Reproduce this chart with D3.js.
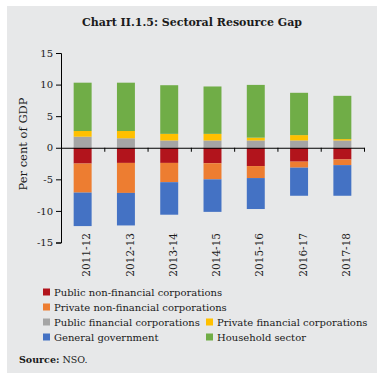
<!DOCTYPE html>
<html><head><meta charset="utf-8">
<script src="https://cdn.jsdelivr.net/npm/d3@7"></script>
<style>body{margin:0;background:#fff}svg{display:block}text{font-family:"DejaVu Serif",serif;fill:#1a1a1a}</style>
</head><body><svg id="c" width="384" height="380"></svg>
<script>
const categories = ["2011-12","2012-13","2013-14","2014-15","2015-16","2016-17","2017-18"];
const publicNonFin  = [-2.5, -2.4, -2.4, -2.45, -2.9, -2.2, -1.85];
const privateNonFin = [-4.6, -4.75, -3.05, -2.55, -1.9, -0.95, -0.9];
const generalGov    = [-5.3, -5.15, -5.15, -5.15, -4.9, -4.45, -4.85];
const publicFin     = [1.75, 1.5, 1.15, 1.15, 1.15, 1.15, 1.15];
const privateFin    = [0.9, 1.15, 1.05, 1.05, 0.45, 0.85, 0.22];
const household     = [7.65, 7.65, 7.7, 7.5, 8.35, 6.7, 6.85];
const yTicks = [-15, -10, -5, 0, 5, 10, 15];

const series = [
  {name:"Public non-financial corporations", values:publicNonFin, color:"#b2141c"},
  {name:"Private non-financial corporations", values:privateNonFin, color:"#ed7d31"},
  {name:"Public financial corporations", values:publicFin, color:"#a5a5a5"},
  {name:"Private financial corporations", values:privateFin, color:"#ffc000"},
  {name:"General government", values:generalGov, color:"#4472c4"},
  {name:"Household sector", values:household, color:"#70ad47"}
];

const svg = d3.select("#c");
svg.append("rect").attr("x",7).attr("y",6).attr("width",370).attr("height",367).attr("fill","#e7e8e9");

svg.append("text").attr("x",192).attr("y",26).attr("text-anchor","middle")
  .attr("font-weight","bold").attr("font-size",11).text("Chart II.1.5: Sectoral Resource Gap");

const x0 = 61, x1 = 364;
const x = d3.scaleBand().domain(categories).range([x0,x1]).paddingInner(0.585).paddingOuter(0.2925);
const y = d3.scaleLinear().domain([-15,15]).range([242.5,53]);

const stacked = [];
categories.forEach((c,i)=>{
  let pos=0, neg=0;
  const order = [series[0],series[1],series[4],series[2],series[3],series[5]];
  order.forEach(s=>{
    const v = s.values[i];
    let a,b;
    if(v>=0){a=pos;b=pos+v;pos=b;} else {a=neg;b=neg+v;neg=b;}
    stacked.push({cat:c,a,b,color:s.color});
  });
});
svg.append("g").selectAll("rect").data(stacked).join("rect")
  .attr("x",d=>x(d.cat)).attr("width",x.bandwidth())
  .attr("y",d=>y(Math.max(d.a,d.b))).attr("height",d=>Math.abs(y(d.a)-y(d.b)))
  .attr("fill",d=>d.color);

const yAxis = d3.axisLeft(y).tickValues(yTicks).tickSize(5).tickPadding(3)
  .tickFormat(d=>d<0?"-"+Math.abs(d):String(d));
const gy = svg.append("g").attr("transform",`translate(${x0},0)`).call(yAxis);
gy.selectAll("text").attr("font-family","DejaVu Serif").attr("font-size",10).attr("fill","#1a1a1a");
gy.selectAll("line,path").attr("stroke","#000");

const xi = d3.scaleLinear().domain([0,categories.length]).range([x0,x1]);
const gx = svg.append("g").attr("transform",`translate(0,${y(0)})`)
  .call(d3.axisBottom(xi).tickValues(d3.range(1,categories.length+1)).tickSize(4).tickSizeOuter(0).tickFormat(""));
gx.selectAll("line,path").attr("stroke","#000");

svg.append("g").selectAll("text").data(categories).join("text")
  .attr("transform",d=>`translate(${x(d)+x.bandwidth()/2+4},233) rotate(-90)`)
  .attr("text-anchor","end").attr("dy","0.35em").attr("font-size",10.5).text(d=>d);

svg.append("text").attr("transform","translate(23,144) rotate(-90)").attr("text-anchor","middle")
  .attr("dy","0.35em").attr("font-size",11.5).text("Per cent of GDP");

const legendPos = [
  [0,43,292],[1,43,307],[2,43,322],[3,206,322],[4,43,337],[5,206,337]
];
const lg = svg.append("g");
legendPos.forEach(([i,lx,ly])=>{
  lg.append("rect").attr("x",lx).attr("y",ly-3.5).attr("width",7).attr("height",7).attr("fill",series[i].color);
  lg.append("text").attr("x",lx+11).attr("y",ly).attr("dy","0.35em").attr("font-size",10).text(series[i].name);
});

const src = svg.append("text").attr("x",19).attr("y",363).attr("font-size",9.5);
src.append("tspan").attr("font-weight","bold").text("Source:");
src.append("tspan").text(" NSO.");
</script></body></html>
